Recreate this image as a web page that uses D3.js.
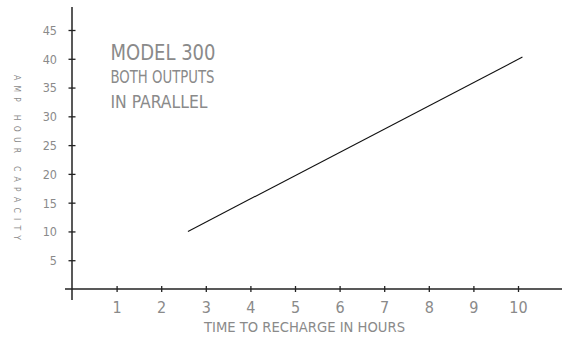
<!DOCTYPE html>
<html><head><meta charset="utf-8">
<script src="https://cdn.jsdelivr.net/npm/d3@7"></script>
<style>
body{margin:0;background:#fff;}
text{font-family:"Liberation Sans Narrow","DejaVu Sans Condensed","Liberation Sans",sans-serif;fill:#8a8a8a;font-weight:300;}
</style></head>
<body><svg id="c" width="564" height="337"></svg>
<script>
const xTicks = [1,2,3,4,5,6,7,8,9,10];
const yTicks = [5,10,15,20,25,30,35,40,45];
const lineX = [2.6, 10.1];
const lineY = [10, 40.3];
const titleLines = ["MODEL 300","BOTH OUTPUTS","IN PARALLEL"];
const xTitle = "TIME TO RECHARGE IN HOURS";
const yTitle = "A M P   H O U R   C A P A C I T Y";

const svg = d3.select("#c");
const x = d3.scaleLinear().domain([0,10]).range([72,518]);
const y = d3.scaleLinear().domain([0,45]).range([289,30]);

// axes lines
svg.append("line").attr("x1",x(0)).attr("x2",x(0)).attr("y1",7).attr("y2",300).attr("stroke","#222").attr("stroke-width",1.5);
svg.append("line").attr("x1",65).attr("x2",562).attr("y1",y(0)).attr("y2",y(0)).attr("stroke","#222").attr("stroke-width",1.3);

const gx = svg.append("g").attr("transform",`translate(0,${y(0)})`)
  .call(d3.axisBottom(x).tickValues(xTicks).tickSize(3).tickFormat(d3.format("d")));
gx.select(".domain").remove();
gx.selectAll(".tick line").attr("y1",-3).attr("y2",3).attr("stroke","#222").attr("stroke-width",1.3);
gx.selectAll(".tick text").attr("y",24).attr("dy",0).style("font-size","16px");

const gy = svg.append("g").attr("transform",`translate(${x(0)},0)`)
  .call(d3.axisLeft(y).tickValues(yTicks).tickSize(3).tickFormat(d3.format("d")));
gy.select(".domain").remove();
gy.selectAll(".tick line").attr("x1",-3.5).attr("x2",3.5).attr("stroke","#222").attr("stroke-width",1.3);
gy.selectAll(".tick text").attr("x",-15).attr("dy","0.35em").style("font-size","12.5px");
svg.selectAll(".tick text").attr("fill",null).style("font-family",'"Liberation Sans Narrow","DejaVu Sans Condensed",sans-serif');

// data line
svg.append("path").datum(lineX.map((d,i)=>[d,lineY[i]]))
  .attr("d", d3.line().x(d=>x(d[0])).y(d=>y(d[1])))
  .attr("stroke","#111").attr("stroke-width",1.1).attr("fill","none");

// titles
const tsz=[21,17.5,17.5], tw=[105,104,97], ty=[60,83,108];
titleLines.forEach((t,i)=>{
  svg.append("text").attr("x",110.5).attr("y",ty[i]).text(t)
    .style("font-size",tsz[i]+"px").attr("textLength",tw[i]).attr("lengthAdjust","spacingAndGlyphs");
});
svg.append("text").attr("x",204).attr("y",332).text(xTitle).style("font-size","14px")
  .attr("textLength",201).attr("lengthAdjust","spacingAndGlyphs");
svg.append("text").attr("transform","translate(14,75) rotate(90)").text(yTitle)
  .style("font-size","8.5px").style("white-space","pre").attr("textLength",165).attr("lengthAdjust","spacing");
</script></body></html>
